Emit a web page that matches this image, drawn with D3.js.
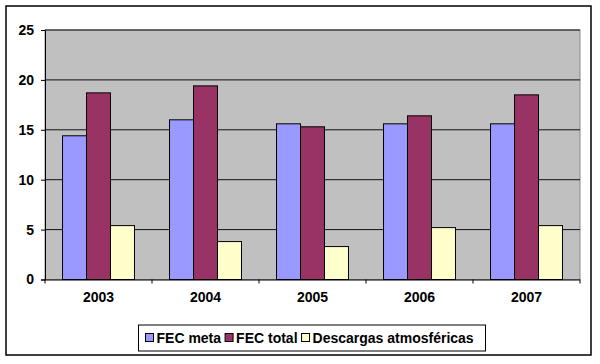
<!DOCTYPE html>
<html><head><meta charset="utf-8">
<script src="https://cdn.jsdelivr.net/npm/d3@7"></script>
<style>body{margin:0;background:#fff}svg{display:block}text{font-family:Arial,"Liberation Sans",sans-serif;font-weight:bold;fill:#000}</style>
</head><body><svg id="c" width="600" height="364"></svg>
<script>
const years = ["2003","2004","2005","2006","2007"];
const seriesNames = ["FEC meta","FEC total","Descargas atmosféricas"];
const fecMeta = [14.4,16.0,15.6,15.6,15.6];
const fecTotal = [18.7,19.4,15.3,16.4,18.5];
const descargas = [5.4,3.8,3.3,5.2,5.4];
const yTicks = [0,5,10,15,20,25];
const colors = ["#9999FF","#993366","#FFFFCC"];

const svg = d3.select("#c");
const L=45,R=580,T=30,B=279.5;
svg.append("rect").attr("x",6).attr("y",6).attr("width",585).attr("height",349)
  .attr("fill","#fff").attr("stroke","#000").attr("stroke-width",1.5);

const x = d3.scaleBand().domain(years).range([L,R]).paddingInner(0).paddingOuter(0);
const y = d3.scaleLinear().domain([0,25]).range([B,T]);
const xs = d3.scaleBand().domain(seriesNames).range([0,x.bandwidth()]).paddingInner(0).paddingOuter(0.73);

svg.append("rect").attr("x",L).attr("y",T).attr("width",R-L).attr("height",B-T)
  .attr("fill","#C0C0C0").attr("stroke","#8a8a8a").attr("stroke-width",1);

svg.append("g").selectAll("line").data(yTicks.filter(d=>d>0)).join("line")
  .attr("x1",L).attr("x2",R).attr("y1",d=>y(d)).attr("y2",d=>y(d))
  .attr("stroke","#111").attr("stroke-width",1);

const data = [fecMeta,fecTotal,descargas];
years.forEach((yr,i)=>{
  svg.append("g").selectAll("rect").data(seriesNames).join("rect")
    .attr("x",s=>x(yr)+xs(s)).attr("width",xs.bandwidth())
    .attr("y",(s,j)=>y(data[j][i])).attr("height",(s,j)=>y(0)-y(data[j][i]))
    .attr("fill",(s,j)=>colors[j]).attr("stroke","#000").attr("stroke-width",1);
});

const ya = svg.append("g").attr("transform",`translate(${L},0)`)
  .call(d3.axisLeft(y).tickValues(yTicks).tickSize(4).tickPadding(7).tickFormat(d3.format("d")));
const xa = svg.append("g").attr("transform",`translate(0,${B})`)
  .call(d3.axisBottom(x).tickSize(0).tickPadding(13));
svg.append("g").selectAll("line").data(years.concat(["end"])).join("line")
  .attr("x1",(d,i)=>L+i*x.step()).attr("x2",(d,i)=>L+i*x.step())
  .attr("y1",B).attr("y2",B+4).attr("stroke","#000");
[ya,xa].forEach(a=>{a.selectAll("path").attr("stroke","#000");a.selectAll("line").attr("stroke","#000");
  a.selectAll("text").style("font-family","Arial,'Liberation Sans',sans-serif").style("font-weight","bold").style("font-size","14px").attr("fill","#000");});
xa.select(".domain").attr("d",`M${L},0.5H${R}`);

const lg = svg.append("g");
lg.append("rect").attr("x",138.5).attr("y",325).attr("width",347).attr("height",26)
  .attr("fill","#fff").attr("stroke","#000").attr("stroke-width",1);
let lx = 145.5;
seriesNames.forEach((s,j)=>{
  lg.append("rect").attr("x",lx).attr("y",333.5).attr("width",8).attr("height",8)
    .attr("fill",colors[j]).attr("stroke","#000").attr("stroke-width",1);
  const t = lg.append("text").attr("x",lx+11).attr("y",343).style("font-size","14px").text(s);
  lx += 11 + t.node().getComputedTextLength() + 4;
});
</script></body></html>
